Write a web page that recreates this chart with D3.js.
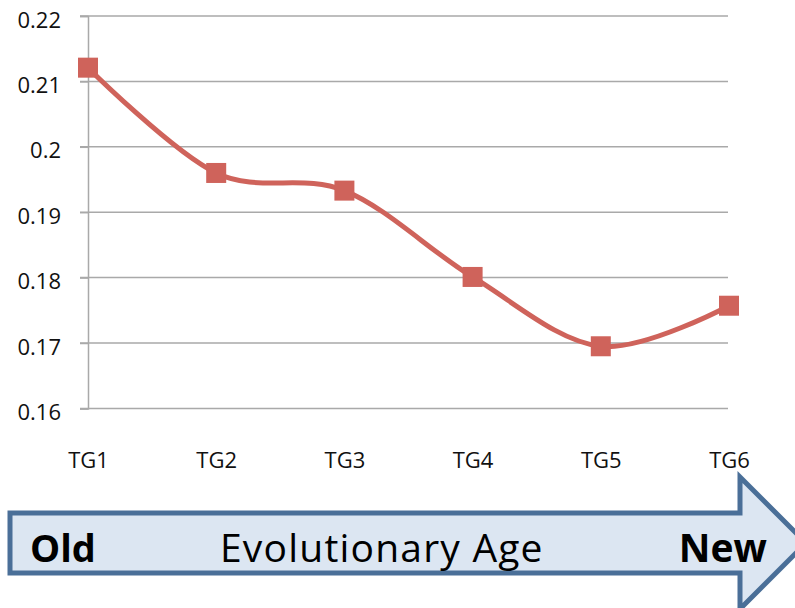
<!DOCTYPE html>
<html>
<head>
<meta charset="utf-8">
<script src="https://cdn.jsdelivr.net/npm/d3@7"></script>
<style>
  html, body { margin: 0; padding: 0; background: #fff; }
  svg { display: block; font-family: "Open Sans", "Noto Sans", sans-serif; }
</style>
</head>
<body>
<div id="chart"></div>
<script>
// DATA
const groups = ['TG1', 'TG2', 'TG3', 'TG4', 'TG5', 'TG6'];
const values = [0.2121, 0.1960, 0.1933, 0.1801, 0.1695, 0.1757];
const yTicks = [0.16, 0.17, 0.18, 0.19, 0.2, 0.21, 0.22];
const arrowText = ['Old', 'Evolutionary Age', 'New'];

const width = 795;
const height = 608;
const red = '#cf635b';
const grid = '#a9a9a9';
const font = '"Open Sans", "Noto Sans", sans-serif';

const svg = d3.select('#chart')
  .append('svg')
  .attr('width', width)
  .attr('height', height);

const x = d3.scalePoint()
  .domain(groups)
  .range([88, 729]);

const y = d3.scaleLinear()
  .domain([0.16, 0.22])
  .range([408.4, 16]);

// GRIDLINES
svg.append('g')
  .selectAll('line')
  .data(yTicks)
  .join('line')
  .attr('x1', 80)
  .attr('x2', 728)
  .attr('y1', d => y(d))
  .attr('y2', d => y(d))
  .attr('stroke', grid)
  .attr('stroke-width', 1.5);

// Y AXIS
const yAxis = svg.append('g')
  .attr('transform', 'translate(88,0)')
  .call(
    d3.axisLeft(y)
      .tickValues(yTicks)
      .tickSize(8)
      .tickPadding(19)
      .tickFormat(d => String(+d.toFixed(2)))
  );
yAxis.attr('font-family', font).attr('font-size', 22);
yAxis.select('.domain').attr('stroke', grid).attr('stroke-width', 1.5);
yAxis.selectAll('.tick line').attr('stroke', grid).attr('stroke-width', 1.5);
yAxis.selectAll('text')
  .attr('dy', '0.5em')
  .attr('fill', '#111');

// X AXIS (labels only)
const xAxis = svg.append('g')
  .attr('transform', 'translate(0,408)')
  .call(d3.axisBottom(x).tickSize(0).tickPadding(44));
xAxis.attr('font-family', font).attr('font-size', 22);
xAxis.select('.domain').remove();
xAxis.selectAll('text')
  .attr('fill', '#111');

// LINE
const line = d3.line()
  .x((d, i) => x(groups[i]))
  .y(d => y(d))
  .curve(d3.curveCardinal.tension(0));

svg.append('path')
  .datum(values)
  .attr('d', line)
  .attr('fill', 'none')
  .attr('stroke', red)
  .attr('stroke-width', 5)
  .attr('stroke-linejoin', 'round');

// MARKERS
const m = 20;
svg.append('g')
  .selectAll('rect')
  .data(values)
  .join('rect')
  .attr('x', (d, i) => x(groups[i]) - m / 2)
  .attr('y', d => y(d) - m / 2)
  .attr('width', m)
  .attr('height', m)
  .attr('fill', red);

// ARROW
const bodyTop = 513, bodyBot = 573, bodyMid = (bodyTop + bodyBot) / 2;
const headX = 740;
const arrow = d3.path();
arrow.moveTo(10, bodyTop);
arrow.lineTo(headX, bodyTop);
arrow.lineTo(headX, bodyMid - 66);
arrow.lineTo(headX + 66, bodyMid);
arrow.lineTo(headX, bodyMid + 66);
arrow.lineTo(headX, bodyBot);
arrow.lineTo(10, bodyBot);
arrow.closePath();

svg.append('path')
  .attr('d', arrow.toString())
  .attr('fill', '#dce6f2')
  .attr('stroke', '#4a6f98')
  .attr('stroke-width', 5)
  .attr('stroke-linejoin', 'miter');

const base = 562;
svg.append('text')
  .attr('x', 30).attr('y', base)
  .attr('font-weight', 'bold')
  .style('font-size', '38px')
  .text(arrowText[0]);

svg.append('text')
  .attr('x', 220).attr('y', base)
  .style('font-size', '39px')
  .style('letter-spacing', '1.2px')
  .text(arrowText[1]);

svg.append('text')
  .attr('x', 767).attr('y', base)
  .attr('text-anchor', 'end')
  .attr('font-weight', 'bold')
  .style('font-size', '39px')
  .text(arrowText[2]);
</script>
</body>
</html>
